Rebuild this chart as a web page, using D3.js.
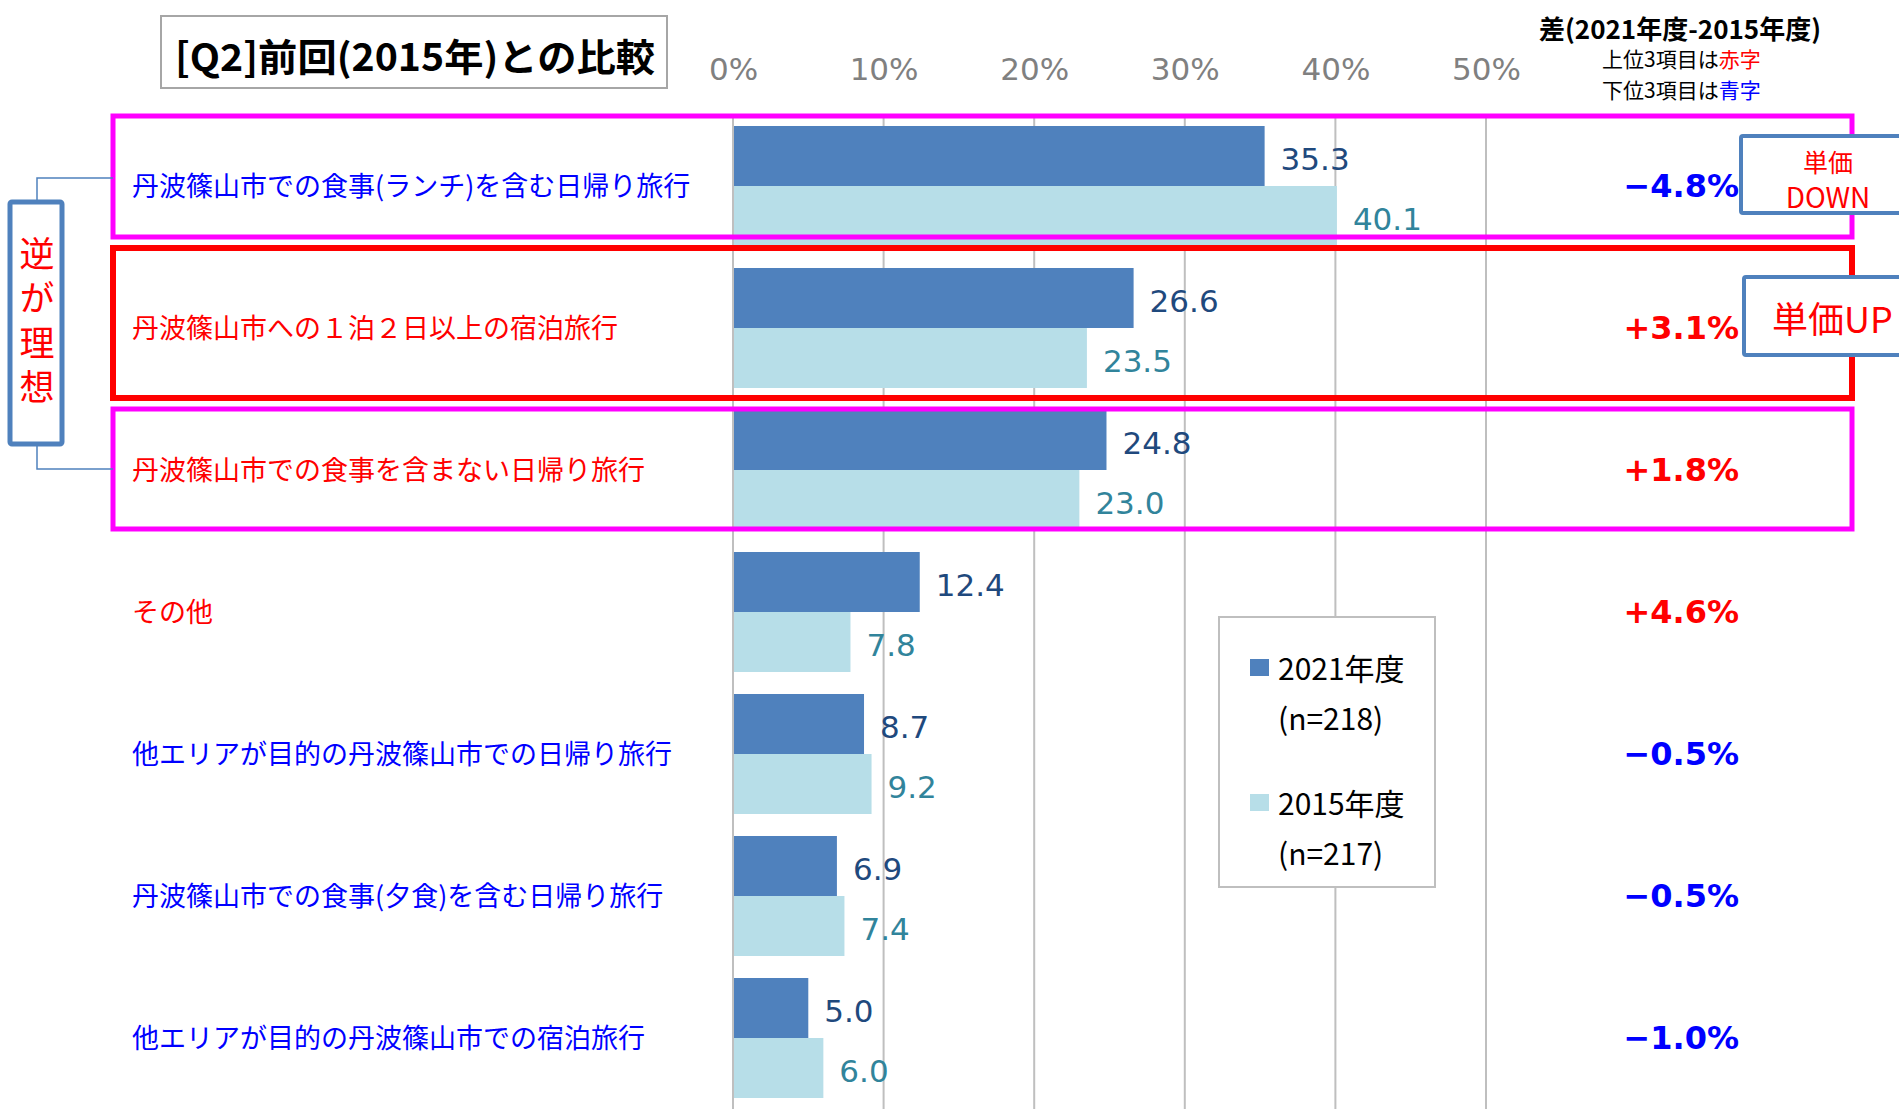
<!DOCTYPE html>
<html>
<head>
<meta charset="utf-8">
<script src="https://cdn.jsdelivr.net/npm/d3@7"></script>
<style>
  body { margin: 0; background: #fff; }
  svg { display: block; }
</style>
</head>
<body>
<div class="chart"></div>
<script>
var svgWidth = 1899;
var svgHeight = 1109;

// data
var categories = [
  "丹波篠山市での食事(ランチ)を含む日帰り旅行",
  "丹波篠山市への１泊２日以上の宿泊旅行",
  "丹波篠山市での食事を含まない日帰り旅行",
  "その他",
  "他エリアが目的の丹波篠山市での日帰り旅行",
  "丹波篠山市での食事(夕食)を含む日帰り旅行",
  "他エリアが目的の丹波篠山市での宿泊旅行"
];
var values2021 = [35.3, 26.6, 24.8, 12.4, 8.7, 6.9, 5.0];
var values2015 = [40.1, 23.5, 23.0, 7.8, 9.2, 7.4, 6.0];
var diffs = [-4.8, 3.1, 1.8, 4.6, -0.5, -0.5, -1.0];
var seriesNames = ["2021年度", "2015年度"];
var seriesCounts = ["(n=218)", "(n=217)"];
var xTicks = [0, 10, 20, 30, 40, 50];

var redLabels = [1, 2, 3];
var colors = { "2021年度": "#4F81BD", "2015年度": "#B7DEE8" };
var labelColors = { "2021年度": "#1F497D", "2015年度": "#31849B" };
var jp = "'Noto Sans CJK JP', 'Noto Sans', sans-serif";
var num = "'DejaVu Sans', Verdana, sans-serif";

var rows = categories.map(function(c, i) {
  return { cat: c, i: i, v2021: values2021[i], v2015: values2015[i], diff: diffs[i] };
});

var svg = d3.select(".chart")
  .append("svg")
  .attr("width", svgWidth)
  .attr("height", svgHeight);

svg.append("rect").attr("width", svgWidth).attr("height", svgHeight).attr("fill", "#fff");

var xScale = d3.scaleLinear().domain([0, 50]).range([733, 1486]);
var yScale = d3.scaleBand().domain(categories).range([115, 1109])
  .paddingInner(0.155).paddingOuter(0.0775);
var ySub = d3.scaleBand().domain(seriesNames).range([0, yScale.bandwidth()]);

// gridlines
svg.append("g").selectAll("line")
  .data(xTicks)
  .enter()
  .append("line")
  .attr("x1", function(d) { return xScale(d); })
  .attr("x2", function(d) { return xScale(d); })
  .attr("y1", 115)
  .attr("y2", svgHeight)
  .attr("stroke", "#BFBFBF")
  .attr("stroke-width", 2);

// top axis labels
var topAxis = d3.axisTop(xScale)
  .tickValues(xTicks)
  .tickSize(0)
  .tickPadding(0)
  .tickFormat(function(d) { return d + "%"; });

var axisG = svg.append("g")
  .attr("transform", "translate(0,80)")
  .call(topAxis);
axisG.select(".domain").remove();
axisG.selectAll("text")
  .attr("font-family", num)
  .attr("font-size", 31)
  .attr("fill", "#808080")
  .attr("dy", 0);

// bars
var groups = svg.append("g").selectAll("g")
  .data(rows)
  .enter()
  .append("g")
  .attr("transform", function(d) { return "translate(0," + yScale(d.cat) + ")"; });

seriesNames.forEach(function(s, k) {
  var key = k === 0 ? "v2021" : "v2015";
  groups.append("rect")
    .attr("x", xScale(0) + 1)
    .attr("y", ySub(s))
    .attr("width", function(d) { return xScale(d[key]) - xScale(0) - 1; })
    .attr("height", ySub.bandwidth())
    .attr("fill", colors[s]);

  groups.append("text")
    .attr("x", function(d) { return xScale(d[key]) + 16; })
    .attr("y", ySub(s) + ySub.bandwidth() / 2 + 14)
    .attr("font-family", num)
    .attr("font-size", 31)
    .attr("fill", labelColors[s])
    .text(function(d) { return d3.format(".1f")(d[key]); });
});

// category labels
svg.append("g").selectAll("text")
  .data(rows)
  .enter()
  .append("text")
  .attr("x", 132)
  .attr("y", function(d) { return yScale(d.cat) + yScale.bandwidth() / 2 - 2; })
  .attr("dominant-baseline", "central")
  .attr("font-family", jp)
  .attr("font-size", 27)
  .attr("fill", function(d) { return redLabels.indexOf(d.i) >= 0 ? "#FF0000" : "#0000FF"; })
  .text(function(d) { return d.cat; });

// difference column
svg.append("g").selectAll("text")
  .data(rows)
  .enter()
  .append("text")
  .attr("x", 1739)
  .attr("y", function(d) { return yScale(d.cat) + yScale.bandwidth() / 2 + 11; })
  .attr("text-anchor", "end")
  .attr("font-family", num)
  .attr("font-weight", "bold")
  .attr("font-size", 32)
  .attr("fill", function(d) { return d.diff > 0 ? "#FF0000" : "#0000FF"; })
  .text(function(d) {
    return (d.diff > 0 ? "+" : "\u2212") + Math.abs(d.diff).toFixed(1) + "%";
  });

// highlight boxes round the top three rows
var boxes = [
  { i: 0, top: -10, bottom: -9, color: "#FF00FF", w: 5 },
  { i: 1, top: -20, bottom: 10, color: "#FF0000", w: 6 },
  { i: 2, top: -1, bottom: -1, color: "#FF00FF", w: 5 }
];
svg.append("g").selectAll("rect")
  .data(boxes)
  .enter()
  .append("rect")
  .attr("x", 113)
  .attr("y", function(b) { return yScale(categories[b.i]) + b.top; })
  .attr("width", 1852 - 113)
  .attr("height", function(b) { return yScale.bandwidth() - b.top + b.bottom; })
  .attr("fill", "none")
  .attr("stroke", function(b) { return b.color; })
  .attr("stroke-width", function(b) { return b.w; });

// left bracket "逆が理想"
var c0 = yScale(categories[0]) + yScale.bandwidth() / 2 - 8;
var c2 = yScale(categories[2]) + yScale.bandwidth() / 2 - 1;
svg.append("path")
  .attr("d", "M37,200 V" + c0 + " H113 M37,446 V" + c2 + " H113")
  .attr("fill", "none")
  .attr("stroke", "#4F81BD")
  .attr("stroke-width", 1.5);
svg.append("rect")
  .attr("x", 10).attr("y", 202).attr("width", 52).attr("height", 242)
  .attr("rx", 2)
  .attr("fill", "#fff")
  .attr("stroke", "#4F81BD")
  .attr("stroke-width", 5);
svg.append("text")
  .attr("x", 37)
  .attr("y", 236)
  .attr("writing-mode", "vertical-rl")
  .attr("font-family", jp)
  .attr("font-size", 35)
  .attr("letter-spacing", 9.5)
  .attr("fill", "#FF0000")
  .text("逆が理想");

// right side price notes
svg.append("rect")
  .attr("x", 1741).attr("y", 136).attr("width", 200).attr("height", 77)
  .attr("rx", 2)
  .attr("fill", "#fff").attr("stroke", "#4F81BD").attr("stroke-width", 4);
svg.append("text")
  .attr("x", 1828).attr("y", 161)
  .attr("text-anchor", "middle").attr("dominant-baseline", "central")
  .attr("font-family", jp).attr("font-size", 25).attr("fill", "#FF0000")
  .text("単価");
svg.append("text")
  .attr("x", 1828).attr("y", 196)
  .attr("text-anchor", "middle").attr("dominant-baseline", "central")
  .attr("font-family", jp).attr("font-size", 28).attr("fill", "#FF0000")
  .text("DOWN");

svg.append("rect")
  .attr("x", 1744).attr("y", 277).attr("width", 200).attr("height", 78)
  .attr("rx", 2)
  .attr("fill", "#fff").attr("stroke", "#4F81BD").attr("stroke-width", 4);
svg.append("text")
  .attr("x", 1772).attr("y", 317)
  .attr("dominant-baseline", "central")
  .attr("font-family", jp).attr("font-size", 36).attr("fill", "#FF0000")
  .text("単価UP");

// title
svg.append("rect")
  .attr("x", 161).attr("y", 16).attr("width", 506).attr("height", 72)
  .attr("fill", "#fff").attr("stroke", "#A6A6A6").attr("stroke-width", 2);
svg.append("text")
  .attr("x", 175).attr("y", 54)
  .attr("dominant-baseline", "central")
  .attr("font-family", jp).attr("font-weight", "bold").attr("font-size", 38)
  .attr("textLength", 480).attr("lengthAdjust", "spacingAndGlyphs")
  .attr("fill", "#000")
  .text("[Q2]前回(2015年)との比較");

// header of the difference column
svg.append("text")
  .attr("x", 1680).attr("y", 27)
  .attr("text-anchor", "middle").attr("dominant-baseline", "central")
  .attr("font-family", jp).attr("font-weight", "bold").attr("font-size", 26)
  .attr("fill", "#000")
  .text("差(2021年度-2015年度)");

var notes = [["上位3項目は", "赤字", "#FF0000"], ["下位3項目は", "青字", "#0000FF"]];
notes.forEach(function(n, i) {
  var t = svg.append("text")
    .attr("x", 1602).attr("y", 58 + i * 31)
    .attr("dominant-baseline", "central")
    .attr("font-family", jp).attr("font-size", 21)
    .attr("fill", "#000");
  t.append("tspan").text(n[0]);
  t.append("tspan").attr("fill", n[2]).text(n[1]);
});

// legend
var legend = svg.append("g").attr("transform", "translate(1219,617)");
legend.append("rect")
  .attr("width", 216).attr("height", 270)
  .attr("fill", "#fff").attr("stroke", "#BFBFBF").attr("stroke-width", 2);
seriesNames.forEach(function(s, k) {
  var y0 = 50 + k * 135;
  legend.append("rect")
    .attr("x", 31).attr("y", y0 - 8).attr("width", 19).attr("height", 17)
    .attr("fill", colors[s]);
  legend.append("text")
    .attr("x", 59).attr("y", y0)
    .attr("dominant-baseline", "central")
    .attr("font-family", jp).attr("font-size", 30).attr("fill", "#000")
    .text(s);
  legend.append("text")
    .attr("x", 59).attr("y", y0 + 50)
    .attr("dominant-baseline", "central")
    .attr("font-family", jp).attr("font-size", 30).attr("fill", "#000")
    .text(seriesCounts[k]);
});
</script>
</body>
</html>
